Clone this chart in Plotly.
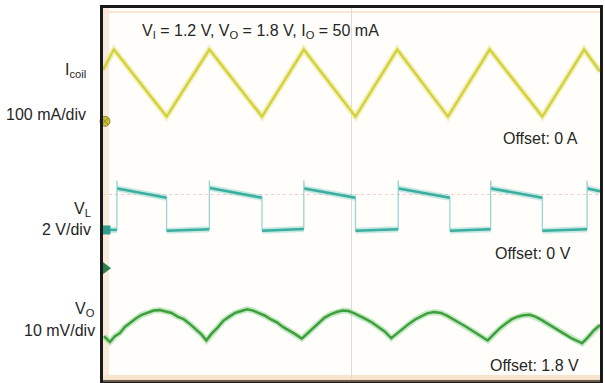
import plotly.graph_objects as go

# ---------------- data (time in horizontal divisions) ----------------
# Coil current, mA
icoil_t = [0.0, 0.22, 1.28, 2.14, 3.20, 4.04, 5.08, 5.92, 6.94, 7.78, 8.84, 9.68, 10.0]
icoil_ma = [110, 154, 10, 154, 10, 154, 10, 154, 10, 154, 10, 154, 107]

# Switch-node voltage V_L, volts: plateaus (start t, end t, start V, end V)
vl_seg_t0 = [0.00, 0.29, 1.28, 2.15, 3.20, 4.05, 5.08, 5.95, 6.98, 7.81, 8.84, 9.75]
vl_seg_t1 = [0.28, 1.28, 2.14, 3.20, 4.04, 5.08, 5.94, 6.98, 7.80, 8.84, 9.74, 10.0]
vl_seg_v0 = [0.00, 1.78, -0.04, 1.80, -0.04, 1.78, -0.04, 1.78, -0.04, 1.78, -0.04, 1.78]
vl_seg_v1 = [0.00, 1.38, 0.03, 1.38, 0.04, 1.38, 0.03, 1.38, 0.03, 1.38, 0.03, 1.66]
vl_spike_v = 2.12

# Output voltage ripple V_O (AC part, mV relative to marker)
vo_t = [0.02, 0.14, 0.24, 0.34, 0.44, 0.56, 0.66, 0.78, 0.90, 1.02, 1.14, 1.26, 1.38,
        1.50, 1.62, 1.74, 1.86, 1.98, 2.08, 2.18, 2.30, 2.42, 2.54, 2.66, 2.78, 2.90,
        3.02, 3.14, 3.26, 3.38, 3.50, 3.62, 3.74, 3.86, 4.00, 4.12, 4.22, 4.34, 4.46,
        4.58, 4.70, 4.82, 4.94, 5.06, 5.18, 5.30, 5.42, 5.54, 5.66, 5.80, 5.92, 6.04,
        6.16, 6.28, 6.40, 6.52, 6.66, 6.80, 6.92, 7.04, 7.16, 7.28, 7.40, 7.52, 7.62,
        7.74, 7.86, 7.98, 8.10, 8.22, 8.34, 8.46, 8.58, 8.70, 8.82, 8.94, 9.06, 9.18,
        9.30, 9.42, 9.54, 9.64, 9.76, 9.88, 10.0]
vo_mv = [-14.6, -15.8, -14.6, -13.9, -12.6, -11.6, -10.8, -10.0, -9.6, -9.1, -9.0, -9.3, -9.6,
         -10.4, -10.9, -11.9, -13.0, -14.2, -15.5, -14.1, -12.8, -11.3, -10.4, -9.6, -9.2, -8.8,
         -9.1, -9.6, -10.2, -11.0, -11.6, -12.6, -13.3, -14.1, -15.1, -13.9, -12.9, -11.6, -10.6,
         -9.9, -9.4, -9.1, -9.2, -9.7, -10.3, -11.0, -11.7, -12.6, -13.5, -15.0, -13.9, -13.0,
         -11.9, -11.0, -10.3, -9.7, -9.4, -9.6, -10.2, -10.9, -11.7, -12.4, -13.2, -14.0, -14.7,
         -15.5, -14.2, -12.9, -11.9, -11.0, -10.4, -10.1, -10.0, -10.4, -11.1, -11.9, -12.7, -13.5,
         -14.3, -15.0, -15.6, -16.1, -14.8, -13.3, -12.2]

# channel settings: scale per div, marker position in divisions
channels = {
    "icoil": dict(scale=100.0, ref=5.57),
    "vl": dict(scale=2.0, ref=3.24),
    "vo": dict(scale=10.0, ref=2.42),
}
title_text = "V<sub>I</sub> = 1.2 V, V<sub>O</sub> = 1.8 V, I<sub>O</sub> = 50 mA"
left_labels = [("I<sub>coil</sub>", 88, 70), ("100 mA/div", 88, 115),
               ("V<sub>L</sub>", 93, 209), ("2 V/div", 93, 230),
               ("V<sub>O</sub>", 97, 309), ("10 mV/div", 97, 330)]
offset_labels = [("Offset: 0 A", 583, 138), ("Offset: 0 V", 576, 253), ("Offset: 1.8 V", 584, 365)]

# ---------------- figure ----------------
W, H = 605, 383
L, R, T, B = 103, 2, 8, 2


def to_div(vals, ch):
    c = channels[ch]
    return [c["ref"] + v / c["scale"] for v in vals]


def px(x):
    return (x - L) / (W - L - R)


def py(y):
    return (H - B - y) / (H - T - B)


fig = go.Figure()

# V_L: thick plateaus (None-separated) plus thin vertical switching edges
vl_plat_t, vl_plat_v = [], []
for a, b, va, vb in zip(vl_seg_t0, vl_seg_t1, vl_seg_v0, vl_seg_v1):
    vl_plat_t += [a, b, None]
    vl_plat_v += [va, vb, None]
vl_edge_t, vl_edge_v = [], []
for i in range(len(vl_seg_t1) - 1):
    t_edge = vl_seg_t1[i]
    v_prev = vl_seg_v1[i]
    v_next = vl_seg_v0[i + 1]
    top = vl_spike_v if v_next > v_prev else v_prev
    vl_edge_t += [t_edge, t_edge, vl_seg_t0[i + 1], None]
    vl_edge_v += [v_prev, top, v_next, None]

vl_plat_y = [None if v is None else channels["vl"]["ref"] + v / channels["vl"]["scale"] for v in vl_plat_v]
vl_edge_y = [None if v is None else channels["vl"]["ref"] + v / channels["vl"]["scale"] for v in vl_edge_v]

fig.add_trace(go.Scatter(x=vl_edge_t, y=vl_edge_y, mode="lines", connectgaps=False,
                         line=dict(color="rgba(120,200,195,0.75)", width=1.3), hoverinfo="skip"))

traces = [
    (icoil_t, to_div(icoil_ma, "icoil"), "rgba(232,232,140,0.55)", "#d3d23e"),
    (vl_plat_t, vl_plat_y, "rgba(150,215,205,0.55)", "#3aae9f"),
    (vo_t, to_div(vo_mv, "vo"), "rgba(150,215,150,0.55)", "#3f9f3f"),
]
for tx, ty, halo, core in traces:
    fig.add_trace(go.Scatter(x=tx, y=ty, mode="lines", connectgaps=False,
                             line=dict(color=halo, width=6), hoverinfo="skip"))
    fig.add_trace(go.Scatter(x=tx, y=ty, mode="lines", connectgaps=False,
                             line=dict(color=core, width=2.5), hoverinfo="skip"))

# channel ground markers at the left edge
fig.add_trace(go.Scatter(x=[0.04], y=[channels["icoil"]["ref"]], mode="markers",
                         marker=dict(symbol="circle-x", size=10, color="#c9bd3a",
                                     line=dict(color="#8d8a20", width=1)),
                         cliponaxis=False, hoverinfo="skip"))
fig.add_trace(go.Scatter(x=[0.06], y=[channels["vl"]["ref"]], mode="markers",
                         marker=dict(symbol="square", size=9, color="#2f9e8c"),
                         cliponaxis=False, hoverinfo="skip"))
fig.add_trace(go.Scatter(x=[0.04], y=[channels["vo"]["ref"]], mode="markers",
                         marker=dict(symbol="triangle-right", size=12, color="#2f7f4a"),
                         cliponaxis=False, hoverinfo="skip"))

shapes = [
    # warm tinted edges of the scope screen
    dict(type="rect", xref="paper", yref="paper", x0=0, x1=px(109), y0=0, y1=1,
         fillcolor="#fcebdc", line_width=0, layer="below"),
    dict(type="rect", xref="paper", yref="paper", x0=0, x1=1, y0=0, y1=py(375),
         fillcolor="#f7e4cc", line_width=0, layer="below"),
    dict(type="line", xref="paper", yref="paper", x0=0, x1=1, y0=py(381), y1=py(381),
         line=dict(color="#6b5a4a", width=2), layer="above"),
    dict(type="line", xref="paper", yref="paper", x0=0, x1=1, y0=py(12), y1=py(12),
         line=dict(color="#fbe6d4", width=2), layer="below"),
    # center graticule
    dict(type="line", xref="x", yref="y", x0=5, x1=5, y0=0, y1=8,
         line=dict(color="#e0dbd6", width=1), layer="below"),
    dict(type="line", xref="x", yref="y", x0=0, x1=10, y0=4, y1=4,
         line=dict(color="#f2cccc", width=1, dash="dot"), layer="below"),
]

annotations = []
font = dict(family="Liberation Sans, Arial", size=16, color="#262626")
annotations.append(dict(text=title_text, x=px(140), y=py(31), xref="paper", yref="paper",
                        xanchor="left", yanchor="middle", showarrow=False, font=font))
for txt, x, y in left_labels:
    annotations.append(dict(text=txt, x=px(x), y=py(y), xref="paper", yref="paper",
                            xanchor="right", yanchor="middle", showarrow=False, font=font))
for txt, x, y in offset_labels:
    annotations.append(dict(text=txt, x=px(x), y=py(y), xref="paper", yref="paper",
                            xanchor="right", yanchor="middle", showarrow=False, font=font))

fig.update_layout(
    width=W, height=H,
    margin=dict(l=L, r=R, t=T, b=B),
    paper_bgcolor="white", plot_bgcolor="#fffefb",
    showlegend=False,
    shapes=shapes, annotations=annotations,
    xaxis=dict(range=[0, 10], showgrid=False, zeroline=False, showticklabels=False,
               ticks="", showline=True, mirror=True, linecolor="#1a1a1a", linewidth=2.5),
    yaxis=dict(range=[0, 8], showgrid=False, zeroline=False, showticklabels=False,
               ticks="", showline=True, mirror=True, linecolor="#1a1a1a", linewidth=2.5),
)

fig.write_html("out.html")
